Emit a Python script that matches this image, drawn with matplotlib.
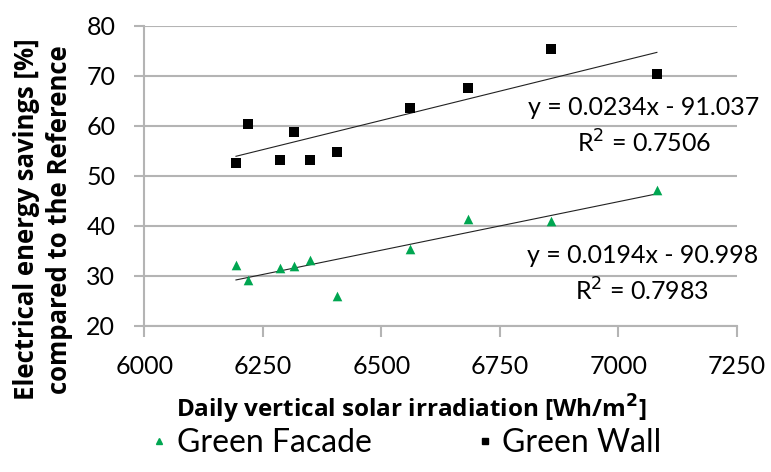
import numpy as np
import matplotlib
matplotlib.use('Agg')
import matplotlib.pyplot as plt
from matplotlib.lines import Line2D

plt.rcParams['font.family'] = ['Lato', 'DejaVu Sans']

# values
irradiation = [6193, 6218, 6285, 6316, 6349, 6407, 6560, 6682, 6858, 7081]
green_wall = [52.5, 60.4, 53.2, 58.7, 53.1, 54.7, 63.5, 67.5, 75.3, 70.3]
green_facade = [32.1, 29.2, 31.5, 31.9, 33.1, 26.0, 35.4, 41.4, 40.9, 47.1]

# linear trend lines as printed on the chart (slope, intercept, r2)
wall_fit = (0.0234, -91.037, 0.7506)
facade_fit = (0.0194, -90.998, 0.7983)

x_ticks = [6000, 6250, 6500, 6750, 7000, 7250]
y_ticks = [20, 30, 40, 50, 60, 70, 80]

grid_col = '#b4b4b4'
green = '#00a651'

fig = plt.figure(figsize=(7.71, 4.72), dpi=100)
ax = fig.add_axes([0.1874, 0.31, 0.9559 - 0.1874, 0.9456 - 0.31])

ax.scatter(irradiation, green_facade, marker='^', s=48, color=green, zorder=3, linewidths=0)
ax.scatter(irradiation, green_wall, marker='s', s=48, color='black', zorder=3, linewidths=0)

xs = np.array([min(irradiation), max(irradiation)])
for slope, icpt, r2 in (wall_fit, facade_fit):
    ax.plot(xs, slope * xs + icpt, color='#222222', lw=0.8, zorder=2)

ax.set_xlim(6000, 7250)
ax.set_ylim(20, 80)
ax.set_xticks(x_ticks)
ax.set_yticks(y_ticks)
ax.grid(axis='y', color=grid_col, lw=1.5)
ax.set_axisbelow(True)
for s in ('top', 'right'):
    ax.spines[s].set_visible(False)
for s in ('left', 'bottom'):
    ax.spines[s].set_color(grid_col)
    ax.spines[s].set_linewidth(1.5)
ax.tick_params(axis='x', length=8, width=1.5, color=grid_col, pad=13, labelsize=18, direction='out')
ax.tick_params(axis='y', length=7, width=1.5, color=grid_col, pad=14, labelsize=18, direction='out')


def eq_text(fit):
    slope, icpt, r2 = fit
    sign = '-' if icpt < 0 else '+'
    return 'y = %.4fx %s %.3f\nR$^2$ = %.4f' % (slope, sign, abs(icpt), r2)


fig.text(0.835, 0.732, eq_text(wall_fit), ha='center', va='center', fontsize=18, linespacing=1.45)
fig.text(0.833, 0.4195, eq_text(facade_fit), ha='center', va='center', fontsize=18, linespacing=1.45)

fig.text(0.533, 0.1324, 'Daily vertical solar irradiation [Wh/m$^\\mathbf{2}$]',
         ha='center', va='center', fontsize=17.5, fontweight='bold', family='Open Sans')
fig.text(0.056, 0.535, 'Electrical energy savings [%]\ncompared to the Reference',
         ha='center', va='center', fontsize=18.5, fontweight='bold', family='Open Sans',
         rotation=90, linespacing=1.3)

handles = [Line2D([], [], marker='^', color=green, ls='', markersize=5),
           Line2D([], [], marker='s', color='black', ls='', markersize=5)]
fig.legend(handles, ['Green Facade', 'Green Wall'], loc='center',
           bbox_to_anchor=(0.527, 0.061), ncol=2, frameon=False, fontsize=23,
           handlelength=0.5, handletextpad=0.3, columnspacing=3.3)

fig.savefig('out.png', dpi=100)
